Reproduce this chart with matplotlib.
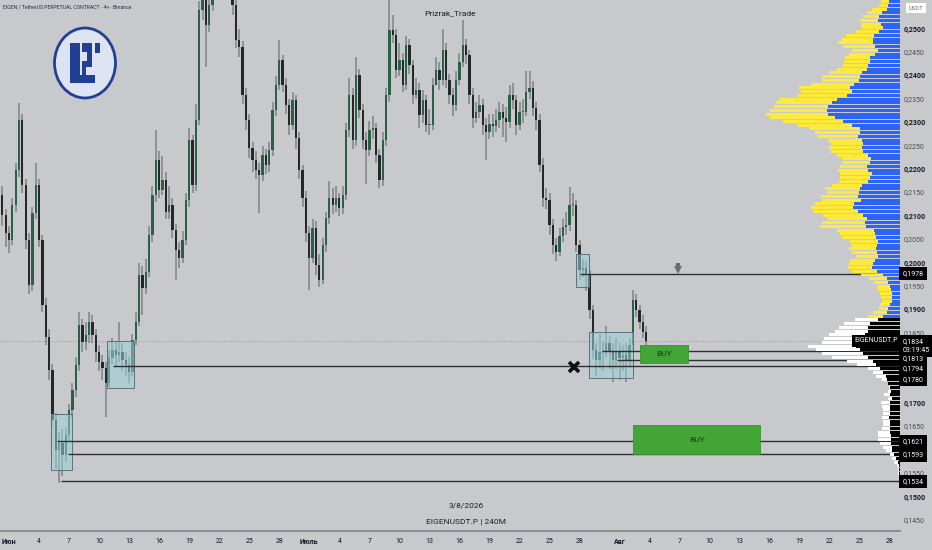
import matplotlib
matplotlib.use("Agg")
import matplotlib.pyplot as plt
import matplotlib.dates as mdates
import matplotlib.transforms as mtransforms
from matplotlib.patches import Rectangle, Ellipse
import numpy as np
import pandas as pd

plt.rcParams['font.family'] = ['Roboto', 'DejaVu Sans']

# ---------------- data (EIGENUSDT.P, 8h sampling of the 4h chart) ----------------
first_open = 0.2120
closes = [
    0.2146, 0.2103, 0.2065, 0.2050, 0.2125, 0.2199, 0.2306, 0.2167, 0.2050, 0.1954,
    0.2108, 0.2167, 0.2050, 0.1911, 0.1842, 0.1772, 0.1665, 0.1601, 0.1616, 0.1590,
    0.1633, 0.1687, 0.1729, 0.1783, 0.1868, 0.1832, 0.1847, 0.1875, 0.1847, 0.1810,
    0.1789, 0.1776, 0.1744, 0.1798, 0.1815, 0.1804, 0.1810, 0.1793, 0.1783, 0.1768,
    0.1836, 0.1875, 0.1975, 0.1947, 0.1981, 0.2060, 0.2146, 0.2221, 0.2157, 0.2178,
    0.2110, 0.2125, 0.2071, 0.2028, 0.2011, 0.2050, 0.2135, 0.2263, 0.2167, 0.2306,
    0.2541, 0.2584, 0.2509, 0.2552, 0.2605, 0.2648, 0.2670, 0.2659, 0.2648, 0.2605,
    0.2552, 0.2477, 0.2462, 0.2360, 0.2306, 0.2246, 0.2221, 0.2199, 0.2189, 0.2231,
    0.2210, 0.2242, 0.2328, 0.2381, 0.2434, 0.2381, 0.2338, 0.2296, 0.2349, 0.2268,
    0.2199, 0.2140, 0.2065, 0.2011, 0.2075, 0.1996, 0.1964, 0.2039, 0.2097, 0.2140,
    0.2125, 0.2140, 0.2118, 0.2146, 0.2285, 0.2360, 0.2263, 0.2402, 0.2328, 0.2263,
    0.2242, 0.2285, 0.2289, 0.2231, 0.2178, 0.2263, 0.2360, 0.2499, 0.2488, 0.2413,
    0.2434, 0.2381, 0.2466, 0.2424, 0.2360, 0.2370, 0.2317, 0.2349, 0.2296, 0.2296,
    0.2381, 0.2413, 0.2392, 0.2456, 0.2392, 0.2360, 0.2338, 0.2392, 0.2430, 0.2466,
    0.2445, 0.2360, 0.2311, 0.2323, 0.2338, 0.2296, 0.2281, 0.2298, 0.2293, 0.2306,
    0.2323, 0.2311, 0.2302, 0.2360, 0.2349, 0.2296, 0.2323, 0.2323, 0.2366, 0.2375,
    0.2332, 0.2306, 0.2210, 0.2140, 0.2135, 0.2082, 0.2039, 0.2024, 0.2058, 0.2078,
    0.2082, 0.2125, 0.2125, 0.2039, 0.1986, 0.1990, 0.1975, 0.1900, 0.1815, 0.1793,
    0.1810, 0.1810, 0.1830, 0.1810, 0.1793, 0.1810, 0.1798, 0.1804, 0.1793, 0.1825,
    0.1922, 0.1900, 0.1875, 0.1853, 0.1834,
]
highs = [
    0.2190, 0.2165, 0.2115, 0.2080, 0.2140, 0.2215, 0.2342, 0.2320, 0.2180, 0.2065,
    0.2120, 0.2214, 0.2180, 0.2060, 0.1925, 0.1860, 0.1785, 0.1680, 0.1640, 0.1645,
    0.1650, 0.1700, 0.1745, 0.1800, 0.1895, 0.1880, 0.1875, 0.1895, 0.1890, 0.1860,
    0.1825, 0.1805, 0.1790, 0.1815, 0.1840, 0.1835, 0.1875, 0.1830, 0.1810, 0.1800,
    0.1850, 0.1895, 0.2000, 0.1995, 0.2010, 0.2080, 0.2165, 0.2285, 0.2240, 0.2230,
    0.2195, 0.2165, 0.2140, 0.2085, 0.2045, 0.2070, 0.2150, 0.2290, 0.2275, 0.2340,
    0.2560, 0.2610, 0.2600, 0.2590, 0.2630, 0.2680, 0.2700, 0.2690, 0.2680, 0.2665,
    0.2620, 0.2565, 0.2500, 0.2475, 0.2375, 0.2320, 0.2260, 0.2240, 0.2215, 0.2250,
    0.2245, 0.2260, 0.2345, 0.2400, 0.2477, 0.2445, 0.2395, 0.2350, 0.2365, 0.2360,
    0.2280, 0.2210, 0.2155, 0.2080, 0.2095, 0.2090, 0.2020, 0.2055, 0.2110, 0.2175,
    0.2160, 0.2165, 0.2150, 0.2165, 0.2300, 0.2395, 0.2375, 0.2440, 0.2415, 0.2340,
    0.2280, 0.2305, 0.2315, 0.2300, 0.2245, 0.2280, 0.2375, 0.2563, 0.2530, 0.2500,
    0.2470, 0.2450, 0.2485, 0.2480, 0.2435, 0.2395, 0.2385, 0.2370, 0.2360, 0.2330,
    0.2395, 0.2440, 0.2430, 0.2500, 0.2470, 0.2405, 0.2375, 0.2410, 0.2450, 0.2520,
    0.2480, 0.2455, 0.2375, 0.2345, 0.2360, 0.2350, 0.2310, 0.2320, 0.2320, 0.2330,
    0.2345, 0.2340, 0.2335, 0.2380, 0.2385, 0.2360, 0.2345, 0.2350, 0.2410, 0.2410,
    0.2390, 0.2345, 0.2320, 0.2225, 0.2160, 0.2150, 0.2095, 0.2055, 0.2075, 0.2095,
    0.2110, 0.2163, 0.2150, 0.2135, 0.2050, 0.2010, 0.2005, 0.1985, 0.1910, 0.1830,
    0.1850, 0.1835, 0.1865, 0.1845, 0.1830, 0.1840, 0.1830, 0.1825, 0.1830, 0.1840,
    0.1943, 0.1935, 0.1910, 0.1890, 0.1865,
]
lows = [
    0.2100, 0.2080, 0.2035, 0.2022, 0.2040, 0.2110, 0.2185, 0.2150, 0.2030, 0.1935,
    0.1940, 0.2095, 0.2035, 0.1895, 0.1825, 0.1750, 0.1650, 0.1560, 0.1530, 0.1545,
    0.1575, 0.1620, 0.1670, 0.1715, 0.1770, 0.1810, 0.1815, 0.1830, 0.1830, 0.1790,
    0.1770, 0.1750, 0.1671, 0.1735, 0.1785, 0.1780, 0.1790, 0.1770, 0.1760, 0.1745,
    0.1760, 0.1825, 0.1865, 0.1890, 0.1935, 0.1970, 0.2045, 0.2130, 0.2140, 0.2145,
    0.2095, 0.2095, 0.2055, 0.1965, 0.1990, 0.2000, 0.2040, 0.2120, 0.2150, 0.2155,
    0.2295, 0.2520, 0.2420, 0.2495, 0.2540, 0.2590, 0.2630, 0.2630, 0.2620, 0.2585,
    0.2530, 0.2460, 0.2440, 0.2340, 0.2285, 0.2225, 0.2195, 0.2180, 0.2108, 0.2175,
    0.2190, 0.2195, 0.2230, 0.2315, 0.2370, 0.2365, 0.2320, 0.2275, 0.2285, 0.2245,
    0.2180, 0.2120, 0.2045, 0.1943, 0.2000, 0.1975, 0.1949, 0.1955, 0.2025, 0.2085,
    0.2105, 0.2110, 0.2100, 0.2105, 0.2135, 0.2270, 0.2245, 0.2250, 0.2310, 0.2245,
    0.2170, 0.2230, 0.2265, 0.2215, 0.2160, 0.2165, 0.2250, 0.2345, 0.2470, 0.2395,
    0.2400, 0.2365, 0.2370, 0.2405, 0.2340, 0.2350, 0.2290, 0.2300, 0.2280, 0.2275,
    0.2285, 0.2395, 0.2370, 0.2380, 0.2375, 0.2340, 0.2315, 0.2325, 0.2380, 0.2420,
    0.2425, 0.2340, 0.2290, 0.2300, 0.2310, 0.2275, 0.2221, 0.2265, 0.2270, 0.2280,
    0.2290, 0.2270, 0.2260, 0.2290, 0.2330, 0.2275, 0.2285, 0.2300, 0.2315, 0.2350,
    0.2315, 0.2285, 0.2195, 0.2120, 0.2115, 0.2060, 0.2020, 0.2005, 0.2015, 0.2045,
    0.2060, 0.2070, 0.2100, 0.2025, 0.1965, 0.1970, 0.1940, 0.1880, 0.1795, 0.1760,
    0.1775, 0.1770, 0.1800, 0.1775, 0.1747, 0.1775, 0.1750, 0.1770, 0.1747, 0.1780,
    0.1815, 0.1885, 0.1860, 0.1840, 0.1825,
]
candle_times = pd.date_range("2026-05-31 00:00", periods=len(closes), freq="8h")

last_price = 0.1834
countdown = "03:19:45"

# horizontal levels drawn to the right edge
level_prices = [0.1978, 0.1813, 0.1794, 0.1780, 0.1621, 0.1593, 0.1534]
level_starts = ["2026-07-28 01:00", "2026-07-30 06:00", "2026-07-31 18:00",
                "2026-06-11 09:00", "2026-06-05 19:00", "2026-06-06 21:00",
                "2026-06-06 05:00"]

# consolidation boxes
zone_starts = ["2026-06-05 05:00", "2026-06-10 19:00", "2026-07-27 15:00", "2026-07-28 23:00"]
zone_ends = ["2026-06-07 07:00", "2026-06-13 12:00", "2026-07-28 23:00", "2026-08-02 08:00"]
zone_tops = [0.1679, 0.1834, 0.2020, 0.1853]
zone_bottoms = [0.1558, 0.1734, 0.1950, 0.1755]

# BUY areas
buy_starts = ["2026-08-03 01:00", "2026-08-02 08:00"]
buy_ends = ["2026-08-07 20:00", "2026-08-15 01:00"]
buy_tops = [0.1826, 0.1654]
buy_bottoms = [0.1786, 0.1593]

cross_time, cross_price = "2026-07-27 10:30", 0.1779
arrow_time, arrow_price = "2026-08-06 20:00", 0.1990

# volume profile rows, top to bottom
vp_top = 0.2559
vp_step = 0.0008
vp_upper_total = [
    19.0, 21.0, 28.3, 32.7, 36.7, 40.3, 39.0, 38.3, 44.0, 54.0,
    57.7, 62.3, 56.7, 48.3, 50.7, 55.0, 56.0, 56.7, 62.7, 70.7,
    77.7, 78.3, 89.3, 101.3, 99.3, 102.3, 121.3, 124.3, 125.7, 130.0,
    134.0, 130.0, 117.0, 102.3, 90.0, 85.0, 82.3, 72.3, 69.0, 71.0,
    69.0, 62.7, 57.7, 57.7, 60.0, 61.7, 60.0, 60.0, 61.0, 68.3,
    75.0, 73.3, 79.0, 78.3, 85.0, 89.0, 86.7, 76.7, 73.3, 78.3,
    80.0, 63.3, 60.0, 57.7, 50.0, 48.3, 50.7, 48.3, 44.0, 50.0,
    50.7, 51.7, 48.3, 39.0, 30.7, 26.0, 23.3, 22.3, 20.0,
    19.0, 18.3, 20.0, 21.0, 26.7, 31.7,
]
vp_upper_up = [
    10.7, 11.7, 13.3, 18.3, 21.0, 21.7, 19.0, 17.3, 21.0, 26.0,
    26.7, 26.7, 25.0, 22.3, 25.0, 30.0, 30.0, 31.7, 33.3, 38.3,
    40.0, 41.0, 46.0, 50.0, 48.3, 53.3, 63.0, 67.7, 72.3, 73.3,
    72.3, 65.0, 56.7, 47.7, 40.0, 40.0, 41.7, 37.7, 36.7, 37.7,
    36.7, 31.7, 29.3, 30.0, 32.7, 31.7, 28.3, 30.0, 31.7, 38.3,
    40.0, 41.0, 42.3, 39.0, 45.7, 46.7, 41.7, 36.7, 32.7, 35.0,
    34.0, 25.7, 25.0, 24.0, 21.7, 23.3, 24.0, 23.3, 22.3, 25.0,
    26.7, 27.7, 23.3, 16.7, 13.3, 11.7, 10.0, 9.0, 8.3,
    8.3, 8.3, 10.0, 11.7, 13.3, 16.7,
]
vp_lower_total = [
    45.0, 55.7, 61.0, 65.0, 71.0, 76.0, 78.3, 91.7, 84.3, 78.3,
    67.7, 53.3, 43.3, 31.7, 26.7, 24.3, 18.3, 12.3, 11.0, 12.3,
    15.7, 12.3, 19.0, 18.3, 16.7, 17.3, 18.3, 17.3, 16.7, 18.3,
    21.7, 21.7, 22.3, 20.0, 16.7, 14.3, 10.0, 7.7, 5.7, 3.3,
    2.5, 2.0, 1.5, 1.0,
]
vp_lower_up = [
    21.7, 30.0, 31.7, 31.7, 35.0, 38.3, 42.3, 44.0, 40.0, 36.7,
    31.7, 26.7, 24.3, 20.0, 16.7, 14.0, 13.3, 11.7, 10.0, 9.0,
    10.0, 8.3, 10.0, 10.0, 10.0, 10.0, 10.7, 10.0, 10.0, 10.0,
    10.0, 9.0, 9.0, 9.0, 8.3, 7.7, 5.7, 4.3, 2.3, 1.0,
    1.0, 0.8, 0.6, 0.5,
]

# scale labels; 0,1600 / 0,1750 / 0,1800 sit under the level badges in the reference
price_ticks = [0.1450, 0.1500, 0.1550, 0.1650, 0.1700, 0.1850, 0.1900, 0.1950,
               0.2000, 0.2050, 0.2100, 0.2150, 0.2200, 0.2250, 0.2300, 0.2350,
               0.2400, 0.2450, 0.2500]
month_names = {6: "Июн", 7: "Июль", 8: "Авг"}
tick_days = [1, 4, 7, 10, 13, 16, 19, 22, 25, 28]

# ---------------- figure ----------------
bg = "#c7c9cc"
W, H = 932, 550
fig = plt.figure(figsize=(W / 100, H / 100), dpi=100, facecolor=bg)
ax = fig.add_axes([0, (H - 531) / H, 900 / W, 531 / H])
ax.set_facecolor(bg)
ax.set_xlim(mdates.date2num(pd.Timestamp("2026-05-31 02:25")),
            mdates.date2num(pd.Timestamp("2026-08-29 00:15")))
ax.set_ylim(0.14280, 0.25626)
for s in ("top", "left", "right"):
    ax.spines[s].set_visible(False)
ax.spines["bottom"].set_color("#8c8e91")
ax.spines["bottom"].set_linewidth(1.4)
ax.set_yticks([])

# x ticks
tick_dates, tick_labels = [], []
for m in (6, 7, 8):
    for d in tick_days:
        tick_dates.append(mdates.date2num(pd.Timestamp(2026, m, d)))
        tick_labels.append(month_names[m] if d == 1 else str(d))
ax.set_xticks(tick_dates)
ax.set_xticklabels(tick_labels)
ax.tick_params(axis="x", length=0, labelsize=5, pad=5, colors="#131722")
for t in ax.get_xticklabels():
    if not t.get_text().isdigit():
        t.set_fontweight("bold")

# current price dotted line
ax.axhline(last_price, color="#9a9c9f", lw=0.7, ls=(0, (1, 1.5)), zorder=1)

# candles
x = mdates.date2num(candle_times)
c = np.array(closes)
o = np.array([first_open] + closes[:-1])
up = c >= o
ax.vlines(x, lows, highs, color="#8b8e91", lw=1.3, zorder=2)
body_lo = np.minimum(o, c)
body_h = np.maximum(np.abs(c - o), 0.00025)
ax.bar(x, body_h, bottom=body_lo, width=5.5 / 24,
       color=np.where(up, "#2b6047", "#24282a"), lw=0, zorder=3)

# zones
for s, e, t, b in zip(zone_starts, zone_ends, zone_tops, zone_bottoms):
    x0 = mdates.date2num(pd.Timestamp(s))
    x1 = mdates.date2num(pd.Timestamp(e))
    ax.add_patch(Rectangle((x0, b), x1 - x0, t - b, fc="#9ad0d8", alpha=0.55,
                           ec="none", zorder=4))
    ax.add_patch(Rectangle((x0, b), x1 - x0, t - b, fc="none",
                           ec="#5c7478", lw=0.7, zorder=4))

# levels
xmax = ax.get_xlim()[1]
for p, s in zip(level_prices, level_starts):
    ax.hlines(p, mdates.date2num(pd.Timestamp(s)), xmax, color="#2e2f31", lw=1.0, zorder=5)

# BUY areas
for s, e, t, b in zip(buy_starts, buy_ends, buy_tops, buy_bottoms):
    x0 = mdates.date2num(pd.Timestamp(s))
    x1 = mdates.date2num(pd.Timestamp(e))
    ax.add_patch(Rectangle((x0, b), x1 - x0, t - b, fc="#42a535", ec="#3a9330",
                           lw=0.6, zorder=6))
    ax.text((x0 + x1) / 2, (t + b) / 2, "BUY", fontsize=6, color="#1c3a17",
            ha="center", va="center", zorder=7)

# cross and down arrow
cx = mdates.date2num(pd.Timestamp(cross_time))
ax.plot([cx], [cross_price], marker="x", ms=7.5, mew=2.6, color="#111111", zorder=7)
axx = mdates.date2num(pd.Timestamp(arrow_time))
ax.vlines(axx, arrow_price - 0.0002, arrow_price + 0.0011, color="#6d6b6f", lw=3.0, zorder=7)
ax.plot([axx], [arrow_price - 0.0004], marker="v", ms=5.5, mew=0, color="#6d6b6f", zorder=7)

# volume profile
vp_ax = fig.add_axes([755 / W, (H - 531) / H, 145 / W, 531 / H], sharey=ax)
vp_ax.set_xlim(145, 0)
vp_ax.axis("off")
n_up = len(vp_upper_total)
rows_upper = vp_top - vp_step * np.arange(n_up)
rows_lower = vp_top - vp_step * (n_up + np.arange(len(vp_lower_total)))
bh = vp_step * 0.8
vp_ax.barh(rows_upper, vp_upper_total, height=bh, color="#ffea3b", lw=0)
vp_ax.barh(rows_upper, vp_upper_up, height=bh, color="#2c64f5", lw=0)
vp_ax.barh(rows_lower, vp_lower_total, height=bh, color="#ffffff", lw=0)
vp_ax.barh(rows_lower, vp_lower_up, height=bh, color="#000000", lw=0)

# right price scale
trans = mtransforms.blended_transform_factory(fig.transFigure, ax.transData)
for p in price_ticks:
    major = abs(p * 100 - round(p * 100)) < 1e-6
    vp_ax.text(904 / W, p, f"{p:.4f}".replace(".", ","), transform=trans,
               fontsize=5, ha="left", va="center", clip_on=False, zorder=5,
               color="#131722" if major else "#4a4d52",
               fontweight="bold" if major else "normal")


def badge(price, label, dy=0.0):
    vp_ax.annotate(label, xy=(902.5 / W, price), xycoords=trans,
                   xytext=(0, dy), textcoords="offset points",
                   fontsize=5, color="white", ha="left", va="center",
                   linespacing=1.35, annotation_clip=False, zorder=6,
                   bbox=dict(boxstyle="square,pad=0.45", fc="#000000", ec="none"))


badge(0.1978, "0,1978")
badge(last_price, "0,1834\n" + countdown, dy=-3.6)
badge(0.1813, "0,1813", dy=-5.9)
badge(0.1794, "0,1794", dy=-6.7)
badge(0.1780, "0,1780", dy=-9.4)
badge(0.1621, "0,1621", dy=-0.7)
badge(0.1593, "0,1593", dy=-0.9)
badge(0.1534, "0,1534")

vp_ax.annotate("EIGENUSDT.P", xy=(898 / W, last_price), xycoords=trans,
               fontsize=5, color="white", ha="right", va="center",
               annotation_clip=False, zorder=6,
               bbox=dict(boxstyle="square,pad=0.35", fc="#000000", ec="none"))

fig.text(916 / W, 1 - 8 / H, "USDT", fontsize=4.2, color="#6a6d72", ha="center",
         va="center", bbox=dict(boxstyle="square,pad=0.5", fc="white", ec="none"))

# texts
fig.text(3 / W, 1 - 7 / H, "EIGEN / TetherUS PERPETUAL CONTRACT · 4ч · Binance",
         fontsize=3.7, color="#2a2e39", ha="left", va="center")
fig.text(450 / W, 1 - 13 / H, "Prizrak_Trade", fontsize=6, color="#1e2025",
         ha="center", va="center")
fig.text(466 / W, 1 - 506 / H, "3/8/2026", fontsize=6, color="#1e2025",
         ha="center", va="center")
fig.text(466 / W, 1 - 522 / H, "EIGENUSDT.P | 240M", fontsize=6, color="#1e2025",
         ha="center", va="center")

# logo
lg = fig.add_axes([52 / W, 1 - 100 / H, 66 / W, 74 / H])
lg.set_xlim(0, 66)
lg.set_ylim(74, 0)
lg.axis("off")
navy = "#233f94"
lg.add_patch(Ellipse((33, 37), 61, 70, fc="#dde3f1", ec=navy, lw=2.0))
for (x0, y0, w, h) in [(18, 17, 10, 40), (18, 49, 25, 8), (30, 17, 9, 9),
                       (35, 17, 5, 22), (30, 35, 10, 6), (30, 35, 4, 15),
                       (43, 17, 5, 10)]:
    lg.add_patch(Rectangle((x0, y0), w, h, fc=navy, ec="none"))

fig.savefig("out.png", dpi=100, facecolor=bg)
